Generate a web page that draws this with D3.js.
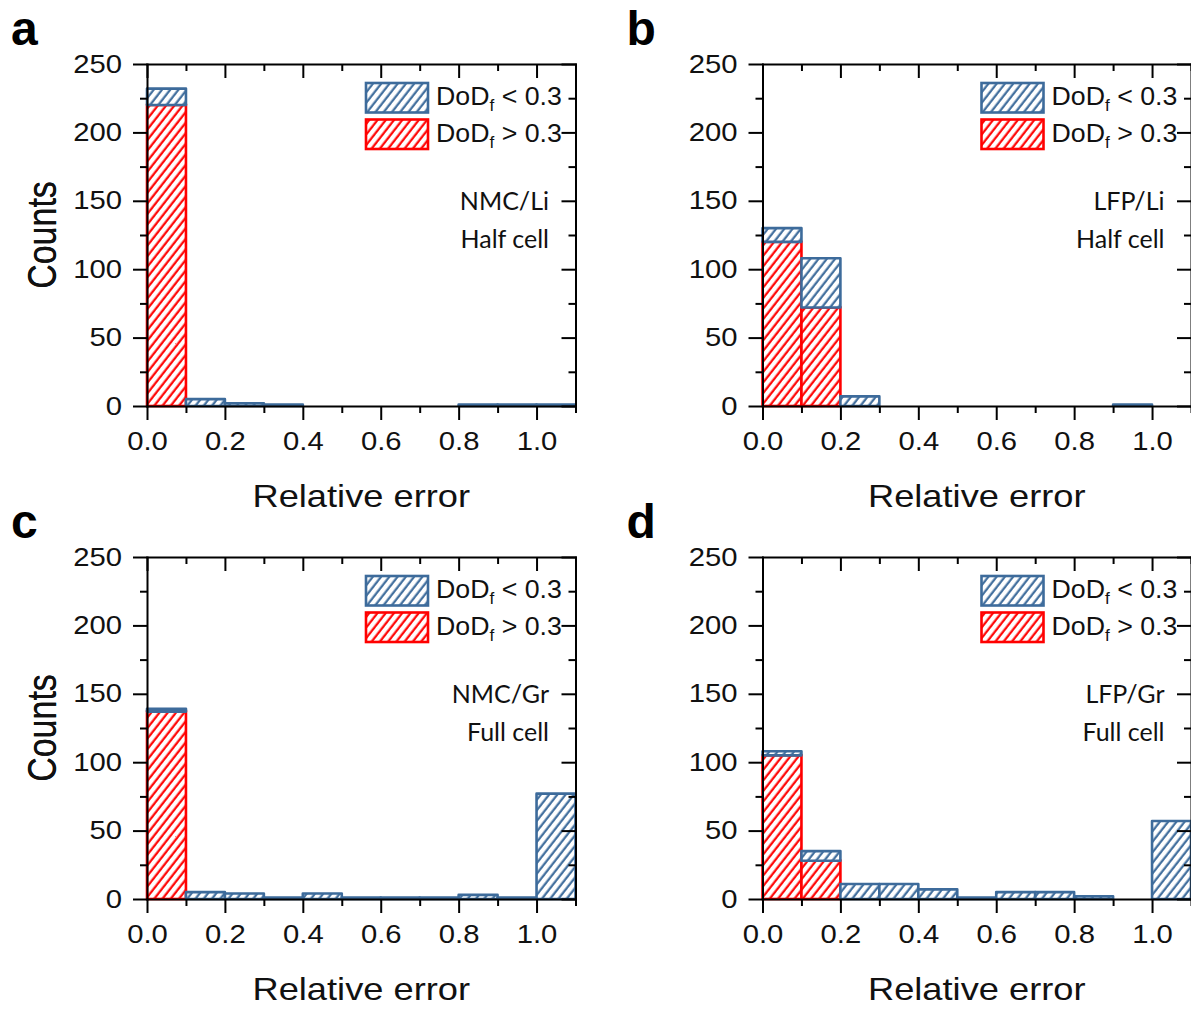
<!DOCTYPE html>
<html>
<head>
<meta charset="utf-8">
<script src="https://cdn.jsdelivr.net/npm/d3@7"></script>
<style>
  body { margin: 0; background: #fff; }
  svg { display: block; }
</style>
</head>
<body>
<div id="chart"></div>
<script>
// lower edge of each histogram bin (bins are 0.1 wide)
const binStarts = [0.0, 0.1, 0.2, 0.3, 0.4, 0.5, 0.6, 0.7, 0.8, 0.9, 1.0];
const binWidth = 0.1;

const yMajor = [0, 50, 100, 150, 200, 250];
const yMinor = [25, 75, 125, 175, 225];
const xMajor = [0.0, 0.2, 0.4, 0.6, 0.8, 1.0];
const xMinor = [0.1, 0.3, 0.5, 0.7, 0.9, 1.1];

// counts per bin, DoDf > 0.3 (red) and DoDf < 0.3 (blue, stacked on top)
const nmcLiHigh = [220, 0, 0, 0, 0, 0, 0, 0, 0, 0, 0];
const nmcLiLow  = [12, 5, 2, 1, 0, 0, 0, 0, 1, 1, 1];
const lfpLiHigh = [120, 72, 0, 0, 0, 0, 0, 0, 0, 0, 0];
const lfpLiLow  = [10, 36, 7, 0, 0, 0, 0, 0, 0, 1, 0];
const nmcGrHigh = [137, 0, 0, 0, 0, 0, 0, 0, 0, 0, 0];
const nmcGrLow  = [2, 5, 4, 1, 4, 1, 1, 1, 3, 1, 77];
const lfpGrHigh = [105, 28, 0, 0, 0, 0, 0, 0, 0, 0, 0];
const lfpGrLow  = [3, 7, 11, 11, 7, 1, 5, 5, 2, 0, 57];

const panelLetters = ["a", "b", "c", "d"];
const materials = ["NMC/Li", "LFP/Li", "NMC/Gr", "LFP/Gr"];
const cellTypes = ["Half cell", "Half cell", "Full cell", "Full cell"];
const legendOps = ["<", ">"];

const BLUE = "#3d6b9b";
const RED = "#ff0000";
const SX = 1.17;          // the original picture is stretched sideways
const W = 428.5, H = 342;
const ARIAL = "'Liberation Sans', Arial, sans-serif";
const CALIBRI = "Lato, 'Open Sans', sans-serif";

const svg = d3.select("#chart").append("svg")
    .attr("width", 1191)
    .attr("height", 1010);

// hatch fills
const defs = svg.append("defs");
[["hatch-blue", BLUE], ["hatch-red", RED]].forEach(([id, c]) => {
    let p = defs.append("pattern")
        .attr("id", id)
        .attr("patternUnits", "userSpaceOnUse")
        .attr("width", 6.5)
        .attr("height", 10)
        .attr("patternTransform", "rotate(38)");
    p.append("rect").attr("width", 6.5).attr("height", 10).attr("fill", "#fff");
    p.append("line")
        .attr("x1", 1.6).attr("x2", 1.6)
        .attr("y1", -1).attr("y2", 11)
        .attr("stroke", c)
        .attr("stroke-width", 2.2);
});

function stretched(sel, x, y, k) {
    return sel.attr("transform", "translate(" + x + "," + y + ") scale(" + (k || SX) + ",1)");
}

class HistPanel {

    constructor(svg, cfg) {
        this.svg = svg;
        this.cfg = cfg;
        this.initVis();
    }

    initVis() {
        let vis = this;

        vis.g = vis.svg.append("g")
            .attr("transform", "translate(" + vis.cfg.left + "," + vis.cfg.top + ")");

        vis.x = d3.scaleLinear().domain([0, 1.1]).range([0, W]);
        vis.y = d3.scaleLinear().domain([0, 250]).range([H, 0]);

        vis.drawBars();
        vis.drawAxes();
        vis.drawLabels();
    }

    drawBars() {
        let vis = this;
        let rows = binStarts.map((b, i) => ({x0: b, high: vis.cfg.high[i], low: vis.cfg.low[i]}));
        let bw = vis.x(binWidth) - vis.x(0);

        vis.g.selectAll("rect.high")
            .data(rows.filter(d => d.high > 0))
            .enter().append("rect")
            .attr("class", "high")
            .attr("x", d => vis.x(d.x0))
            .attr("width", bw)
            .attr("y", d => vis.y(d.high))
            .attr("height", d => vis.y(0) - vis.y(d.high))
            .attr("fill", "url(#hatch-red)")
            .attr("stroke", RED)
            .attr("stroke-width", 2.6);

        vis.g.selectAll("rect.low")
            .data(rows.filter(d => d.low > 0))
            .enter().append("rect")
            .attr("class", "low")
            .attr("x", d => vis.x(d.x0))
            .attr("width", bw)
            .attr("y", d => vis.y(d.high + d.low))
            .attr("height", d => vis.y(d.high) - vis.y(d.high + d.low))
            .attr("fill", "url(#hatch-blue)")
            .attr("stroke", BLUE)
            .attr("stroke-width", 2.6)
            .attr("stroke-linejoin", "round");
    }

    drawAxes() {
        let vis = this;

        let styleAxis = (sel) => {
            sel.selectAll("path, line").attr("stroke", "#000").attr("stroke-width", 2);
            sel.select("path.domain").attr("stroke-linecap", "square");
        };

        // bottom
        let bottom = vis.g.append("g")
            .attr("transform", "translate(0," + H + ")")
            .call(d3.axisBottom(vis.x).tickValues(xMajor).tickSize(14).tickSizeOuter(0)
                .tickPadding(12).tickFormat(d3.format(".1f")));
        bottom.selectAll("text")
            .attr("font-family", ARIAL).attr("font-size", 25).attr("fill", "#111")
            .attr("transform", "scale(" + SX + ",1)");
        vis.g.append("g")
            .attr("transform", "translate(0," + H + ")")
            .call(d3.axisBottom(vis.x).tickValues(xMinor).tickSize(7).tickFormat(""))
            .call(g => g.select(".domain").remove())
            .call(styleAxis);
        styleAxis(bottom);

        // left
        let left = vis.g.append("g")
            .call(d3.axisLeft(vis.y).tickValues(yMajor).tickSize(14).tickSizeOuter(0));
        left.selectAll("text")
            .attr("font-family", ARIAL).attr("font-size", 25).attr("fill", "#111")
            .attr("x", -25 / SX)
            .attr("transform", "scale(" + SX + ",1)");
        vis.g.append("g")
            .call(d3.axisLeft(vis.y).tickValues(yMinor).tickSize(7).tickFormat(""))
            .call(g => g.select(".domain").remove())
            .call(styleAxis);
        styleAxis(left);

        // top, ticks inward
        vis.g.append("g")
            .call(d3.axisTop(vis.x).tickValues(xMajor).tickSize(-14).tickSizeOuter(0).tickFormat(""))
            .call(styleAxis);
        vis.g.append("g")
            .call(d3.axisTop(vis.x).tickValues(xMinor).tickSize(-7).tickFormat(""))
            .call(g => g.select(".domain").remove())
            .call(styleAxis);

        // right, ticks inward
        vis.g.append("g")
            .attr("transform", "translate(" + W + ",0)")
            .call(d3.axisRight(vis.y).tickValues(yMajor).tickSize(-14).tickSizeOuter(0).tickFormat(""))
            .call(styleAxis);
        vis.g.append("g")
            .attr("transform", "translate(" + W + ",0)")
            .call(d3.axisRight(vis.y).tickValues(yMinor).tickSize(-7).tickFormat(""))
            .call(g => g.select(".domain").remove())
            .call(styleAxis);
    }

    drawLabels() {
        let vis = this;
        let cfg = vis.cfg;

        // axis titles
        stretched(vis.g.append("text"), W / 2, H + 101)
            .attr("text-anchor", "middle")
            .attr("font-family", ARIAL).attr("font-size", 31).attr("fill", "#111")
            .text("Relative error");

        vis.g.append("text")
            .attr("transform", "translate(" + (56 - cfg.left) + "," + (H / 2) + ") rotate(-90) scale(1," + SX + ")")
            .attr("text-anchor", "middle")
            .attr("font-family", ARIAL).attr("font-size", 34).attr("fill", "#111")
            .text("Counts");

        // panel letter
        vis.svg.append("text")
            .attr("x", cfg.left - 136)
            .attr("y", cfg.top - 19)
            .attr("font-family", ARIAL).attr("font-weight", "bold")
            .attr("font-size", 48).attr("fill", "#000")
            .text(cfg.letter);

        // legend
        let legend = vis.g.append("g");
        [["url(#hatch-blue)", BLUE], ["url(#hatch-red)", RED]].forEach(([fill, c], i) => {
            legend.append("rect")
                .attr("x", 219).attr("y", 19 + i * 36.5)
                .attr("width", 62).attr("height", 29.5)
                .attr("fill", fill)
                .attr("stroke", c).attr("stroke-width", 2.6);
            let t = stretched(legend.append("text"), 289, 41 + i * 37, 1.07)
                .attr("font-family", ARIAL).attr("font-size", 25).attr("fill", "#111");
            t.append("tspan").text("DoD");
            t.append("tspan").attr("font-size", 16).attr("dy", 6).text("f");
            t.append("tspan").attr("dy", -6).text(" " + legendOps[i] + " 0.3");
        });

        // material / cell annotation
        [cfg.material, cfg.cell].forEach((s, i) => {
            vis.g.append("text")
                .attr("x", 402).attr("y", 146 + i * 37.5)
                .attr("text-anchor", "end")
                .attr("font-family", CALIBRI).attr("font-size", 25).attr("fill", "#111")
                .text(s);
        });
    }
}

const panelHigh = [nmcLiHigh, lfpLiHigh, nmcGrHigh, lfpGrHigh];
const panelLow = [nmcLiLow, lfpLiLow, nmcGrLow, lfpGrLow];
const panelLeft = [147, 762.5, 147, 762.5];
const panelTop = [64, 64, 557, 557];

panelLetters.forEach((letter, i) => {
    new HistPanel(svg, {
        letter: letter,
        material: materials[i],
        cell: cellTypes[i],
        high: panelHigh[i],
        low: panelLow[i],
        left: panelLeft[i],
        top: panelTop[i]
    });
});
</script>
</body>
</html>
